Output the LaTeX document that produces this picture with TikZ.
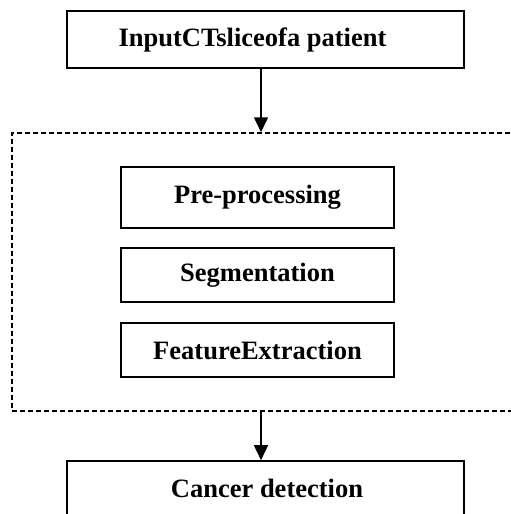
\documentclass[tikz,border=0pt]{standalone}
\usepackage{fontspec}
\setmainfont{Liberation Serif}
\usetikzlibrary{arrows.meta}
\begin{document}
\begin{tikzpicture}[x=1pt,y=-1pt,
  stepbox/.style={draw=black,line width=1.6pt,rectangle,inner sep=0pt,
    font=\fontsize{26.5}{30}\selectfont\bfseries},
  labeltext/.style={inner sep=0pt,font=\fontsize{26.5}{30}\selectfont\bfseries},
  groupbox/.style={draw=black,line width=1.5pt,dash pattern=on 5pt off 3pt,rectangle,inner sep=0pt},
  arr/.style={line width=1.6pt,-{Triangle[length=15pt,width=14pt]}}]
\useasboundingbox (0,0) rectangle (511,514);
\clip (0,0) rectangle (511,514);
\coordinate (ax) at (261,0);
\node[stepbox,minimum width=397pt,minimum height=57pt] (input) at (265.5,39.5) {};
\node[labeltext] (inputtext) at (252.5,40) {InputCTsliceofa patient};
\node[groupbox,minimum width=518pt,minimum height=278pt] (group) at (271,272) {};
\node[stepbox,minimum width=273pt,minimum height=61pt] (pre) at (257.5,197.5) {Pre-processing};
\node[stepbox,minimum width=273pt,minimum height=54pt] (seg) at (257.5,275) {Segmentation};
\node[stepbox,minimum width=273pt,minimum height=54pt] (feat) at (257.5,350) {FeatureExtraction};
\node[stepbox,minimum width=397pt,minimum height=80pt] (det) at (265.5,501) {};
\node[labeltext] (dettext) at (267,488) {Cancer detection};
\draw[arr] (input.south -| ax) -- (group.north -| ax);
\draw[arr] (group.south -| ax) -- (det.north -| ax);
\end{tikzpicture}
\end{document}
